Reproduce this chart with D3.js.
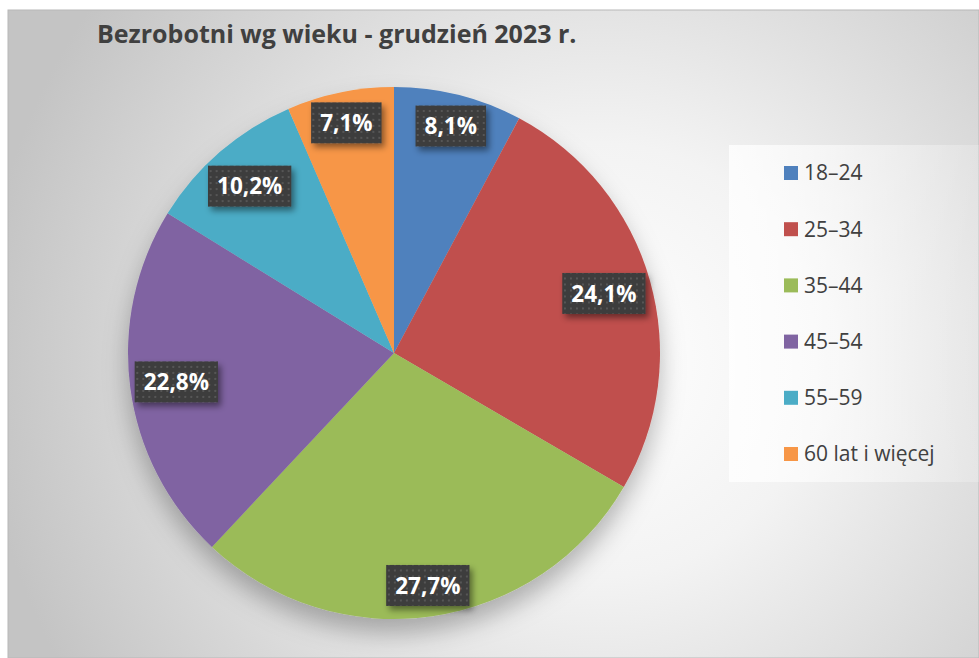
<!DOCTYPE html>
<html>
<head>
<meta charset="utf-8">
<script src="https://cdn.jsdelivr.net/npm/d3@7"></script>
<style>
  html, body { margin: 0; padding: 0; background: #fff; }
  svg { display: block; }
</style>
</head>
<body>
<div id="chart"></div>
<script>
(function () {

    // dane
    var categories = ['18–24', '25–34', '35–44', '45–54', '55–59', '60 lat i więcej']
    // wielkosci wycinkow odczytane z katow na obrazku (nie zgadzaja sie z etykietami)
    var sliceValues = [7.8, 25.6, 28.6, 21.8, 9.7, 6.5]
    // etykiety danych tak jak sa wypisane na wykresie
    var labelValues = [8.1, 24.1, 27.7, 22.8, 10.2, 7.1]
    var colors = ['#4f81bd', '#c0504d', '#9bbb59', '#8064a2', '#4bacc6', '#f79646']
    var title = 'Bezrobotni wg wieku - grudzień 2023 r.'

    var width = 979, height = 658
    var cx = 394, cy = 353, radius = 266

    var svg = d3.select('#chart')
        .append('svg')
        .attr('width', width)
        .attr('height', height)

    var defs = svg.append('defs')

    var bg = defs.append('radialGradient')
        .attr('id', 'bg')
        .attr('gradientUnits', 'userSpaceOnUse')
        .attr('cx', 600).attr('cy', 360).attr('r', 620)
    bg.append('stop').attr('offset', '0%').attr('stop-color', '#ffffff')
    bg.append('stop').attr('offset', '35%').attr('stop-color', '#f3f3f3')
    bg.append('stop').attr('offset', '100%').attr('stop-color', '#c4c4c4')

    var lg = defs.append('linearGradient')
        .attr('id', 'legbg')
        .attr('x1', 0).attr('x2', 1).attr('y1', 0).attr('y2', 0)
    lg.append('stop').attr('offset', '0%').attr('stop-color', '#fff').attr('stop-opacity', 0.8)
    lg.append('stop').attr('offset', '100%').attr('stop-color', '#fff').attr('stop-opacity', 0.2)

    // kropki na etykietach
    var pat = defs.append('pattern')
        .attr('id', 'dots')
        .attr('width', 6).attr('height', 6)
        .attr('patternUnits', 'userSpaceOnUse')
    pat.append('rect').attr('width', 6).attr('height', 6).attr('fill', '#3c3c3c')
    pat.append('rect').attr('x', 2).attr('y', 2).attr('width', 2).attr('height', 2).attr('fill', '#575757')

    var sh = defs.append('filter').attr('id', 'pieShadow')
        .attr('x', '-20%').attr('y', '-20%').attr('width', '140%').attr('height', '150%')
    sh.append('feDropShadow')
        .attr('dx', 0).attr('dy', 14).attr('stdDeviation', 12)
        .attr('flood-color', '#000').attr('flood-opacity', 0.28)

    var bs = defs.append('filter').attr('id', 'boxShadow')
        .attr('x', '-30%').attr('y', '-30%').attr('width', '170%').attr('height', '180%')
    bs.append('feDropShadow')
        .attr('dx', 3).attr('dy', 4).attr('stdDeviation', 3)
        .attr('flood-color', '#000').attr('flood-opacity', 0.45)

    // tlo wykresu
    svg.append('rect')
        .attr('x', 8).attr('y', 10)
        .attr('width', width - 8).attr('height', height - 10)
        .attr('fill', 'url(#bg)')
        .attr('stroke', '#b8b8b8')
        .attr('stroke-width', 1)

    svg.append('text')
        .attr('x', 97).attr('y', 43)
        .attr('font-family', 'Open Sans, sans-serif')
        .attr('font-weight', 'bold')
        .attr('font-size', 25)
        .attr('fill', '#404040')
        .text(title)

    // legenda
    svg.append('rect')
        .attr('x', 729).attr('y', 145)
        .attr('width', width - 729).attr('height', 337)
        .attr('fill', 'url(#legbg)')

    var legendY = d3.scalePoint()
        .domain(categories)
        .range([173, 454])

    var leg = svg.selectAll('.leg')
        .data(categories)
        .enter().append('g')
        .attr('class', 'leg')
        .attr('transform', function(d) { return 'translate(784,' + legendY(d) + ')' })

    leg.append('rect')
        .attr('x', 0).attr('y', -7)
        .attr('width', 14).attr('height', 14)
        .attr('fill', function(d, i) { return colors[i] })

    leg.append('text')
        .attr('x', 20).attr('y', 0)
        .attr('dy', '0.35em')
        .attr('font-family', 'Open Sans, sans-serif')
        .attr('font-size', 21)
        .attr('fill', '#404040')
        .text(function(d) { return d })

    // wykres kolowy
    var pie = d3.pie().sort(null).value(function(d) { return d })
    var arcs = pie(sliceValues)
    var arc = d3.arc().innerRadius(0).outerRadius(radius)

    var g = svg.append('g')
        .attr('transform', 'translate(' + cx + ',' + cy + ')')

    g.append('g')
        .attr('filter', 'url(#pieShadow)')
        .selectAll('path')
        .data(arcs)
        .enter().append('path')
        .attr('d', arc)
        .attr('fill', function(d, i) { return colors[i] })

    // etykiety
    var fmt = function(v) { return v.toFixed(1).replace('.', ',') + '%' }
    var labels = g.selectAll('.lab')
        .data(arcs)
        .enter().append('g')
        .attr('class', 'lab')

    labels.each(function(d, i) {
        var el = d3.select(this)
        var box = el.append('rect').attr('fill', 'url(#dots)').attr('filter', 'url(#boxShadow)')
        var t = el.append('text')
            .attr('text-anchor', 'middle')
            .attr('dy', '0.36em')
            .attr('font-family', 'Open Sans, sans-serif')
            .attr('font-weight', 'bold')
            .attr('font-size', 22.5)
            .attr('fill', '#fff')
            .text(fmt(labelValues[i]))
        var w = t.node().getComputedTextLength() + 18, h = 41
        box.attr('x', -w / 2).attr('y', -h / 2).attr('width', w).attr('height', h)

        // odleglosc tak, by naroznik etykiety dotykal krawedzi
        var a = (d.startAngle + d.endAngle) / 2
        var ux = Math.sin(a), uy = -Math.cos(a)
        var hx = (ux >= 0 ? 1 : -1) * w / 2, hy = (uy >= 0 ? 1 : -1) * h / 2
        var R = radius - 2
        var b = ux * hx + uy * hy
        var c = hx * hx + hy * hy - R * R
        var dist = -b + Math.sqrt(b * b - c)
        el.attr('transform', 'translate(' + (ux * dist) + ',' + (uy * dist) + ')')
    })

})()
</script>
</body>
</html>
